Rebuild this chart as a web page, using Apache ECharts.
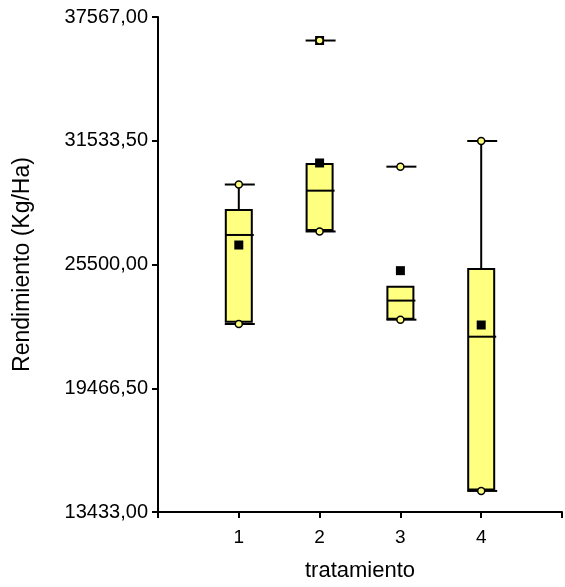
<!DOCTYPE html>
<html lang="es">
<head>
    <meta charset="UTF-8">
    <title>Rendimiento por tratamiento</title>
    <script src="https://cdn.jsdelivr.net/npm/echarts@6/dist/echarts.min.js"></script>
    <style>
        html, body {
            width: 100%;
            height: 100%;
            margin: 0;
            padding: 0;
            background-color: #fff;
        }
        #chart {
            width: 565px;
            height: 587px;
        }
    </style>
</head>
<body>
<div id="chart"></div>
<script>
    // Treatments (x positions) and box statistics
    var treatments = [1, 2, 3, 4];
    var mins    = [22600, 27110, 22810, 14460];
    var q1s     = [22710, 27180, 22860, 14530];
    var medians = [26940, 29100, 23740, 21980];
    var q3s     = [28160, 30400, 24420, 25280];
    var maxs    = [29400, 36420, 30270, 31520];
    var means   = [26450, 30450, 25200, 22550];
    // upper whisker line drawn between box and max? (2 and 3 show only the cap)
    var upperWhisker = [true, false, false, true];
    // extra black square drawn on treatment 2's max
    var extraPts = [null, 36420, null, null];

    // y axis range and tick step as printed on the chart
    var yMin = 13433, yMax = 37567, yStep = 6033.5;

    var FILL = '#FFFF80';
    var INK = '#000';
    var FONT = 'Liberation Sans, Arial, sans-serif';

    var boxData = treatments.map(function (t, i) {
        return [t, mins[i], q1s[i], medians[i], q3s[i], maxs[i], upperWhisker[i] ? 1 : 0];
    });

    function renderBox(params, api) {
        var x = api.value(0);
        var pMin = api.coord([x, api.value(1)]);
        var pQ1 = api.coord([x, api.value(2)]);
        var pMed = api.coord([x, api.value(3)]);
        var pQ3 = api.coord([x, api.value(4)]);
        var pMax = api.coord([x, api.value(5)]);
        var cx = pMin[0];
        var half = 13;
        var lineStyle = { stroke: INK, lineWidth: 2 };
        var kids = [];
        if (api.value(6)) {
            kids.push({ type: 'line', shape: { x1: cx, y1: pMax[1], x2: cx, y2: pQ3[1] }, style: lineStyle });
        }
        kids.push(
            { type: 'line', shape: { x1: cx, y1: pQ1[1], x2: cx, y2: pMin[1] }, style: lineStyle },
            {
                type: 'rect',
                shape: { x: cx - half, y: pQ3[1], width: half * 2, height: pQ1[1] - pQ3[1] },
                style: { fill: FILL, stroke: INK, lineWidth: 2 }
            },
            // median
            { type: 'line', shape: { x1: cx - half, y1: pMed[1], x2: cx + half + 2, y2: pMed[1] }, style: lineStyle },
            // caps
            { type: 'line', shape: { x1: cx - half - 1, y1: pMax[1], x2: cx + half + 3, y2: pMax[1] }, style: lineStyle },
            { type: 'line', shape: { x1: cx - half - 1, y1: pMin[1], x2: cx + half + 3, y2: pMin[1] }, style: lineStyle }
        );
        return { type: 'group', children: kids };
    }

    var chart = echarts.init(document.getElementById('chart'), null, { renderer: 'canvas' });

    var option = {
        backgroundColor: '#fff',
        animation: false,
        grid: { left: 158, right: 2, top: 17, bottom: 75 },
        xAxis: {
            type: 'value',
            min: 0,
            max: 5,
            interval: 1,
            name: 'tratamiento',
            nameLocation: 'middle',
            nameGap: 48,
            nameTextStyle: { color: '#000', fontSize: 22, fontFamily: FONT },
            splitLine: { show: false },
            axisLine: { lineStyle: { color: INK, width: 2 } },
            axisTick: { length: 6, lineStyle: { color: INK, width: 2 } },
            axisLabel: {
                color: '#000',
                fontSize: 19,
                fontFamily: FONT,
                margin: 16,
                formatter: function (v) {
                    return treatments.indexOf(v) >= 0 ? String(v) : '';
                }
            }
        },
        yAxis: {
            type: 'value',
            min: yMin,
            max: yMax,
            interval: yStep,
            name: 'Rendimiento (Kg/Ha)',
            nameLocation: 'middle',
            nameGap: 124,
            nameTextStyle: { color: '#000', fontSize: 23, fontFamily: FONT },
            splitLine: { show: false },
            axisLine: { lineStyle: { color: INK, width: 2 } },
            axisTick: { length: 6, lineStyle: { color: INK, width: 2 } },
            axisLabel: {
                color: '#000',
                fontSize: 20,
                fontFamily: FONT,
                margin: 10,
                formatter: function (v) {
                    return v.toFixed(2).replace('.', ',');
                }
            }
        },
        series: [
            {
                name: 'boxes',
                type: 'custom',
                renderItem: renderBox,
                data: boxData,
                z: 2
            },
            {
                name: 'media',
                type: 'scatter',
                symbol: 'rect',
                symbolSize: 9,
                itemStyle: { color: INK, opacity: 1 },
                data: treatments.map(function (t, i) { return [t, means[i]]; }),
                z: 3
            },
            {
                name: 'extra',
                type: 'scatter',
                symbol: 'rect',
                symbolSize: 9,
                itemStyle: { color: INK, opacity: 1 },
                data: treatments.map(function (t, i) { return [t, extraPts[i]]; })
                    .filter(function (d) { return d[1] != null; }),
                z: 3
            },
            {
                name: 'min/max',
                type: 'scatter',
                symbol: 'circle',
                symbolSize: 7,
                itemStyle: { color: FILL, borderColor: INK, borderWidth: 1.5, opacity: 1 },
                data: treatments.map(function (t, i) { return [t, mins[i]]; })
                    .concat(treatments.map(function (t, i) { return [t, maxs[i]]; })),
                z: 4
            }
        ]
    };

    chart.setOption(option);
</script>
</body>
</html>
